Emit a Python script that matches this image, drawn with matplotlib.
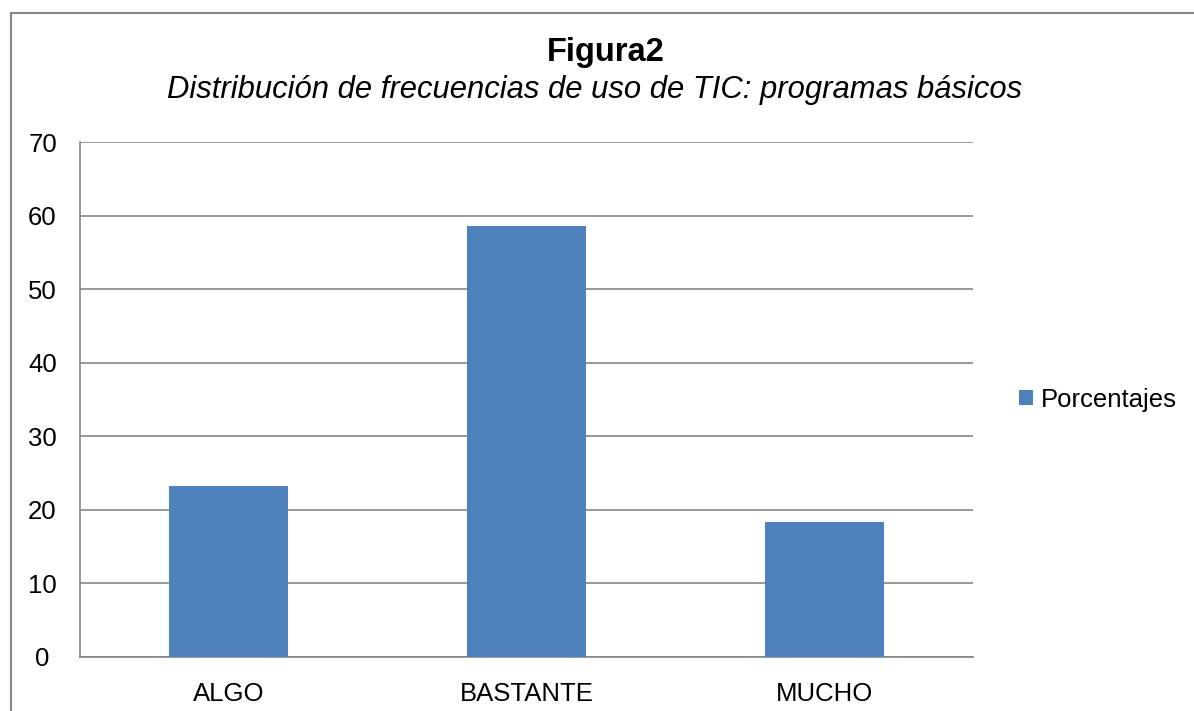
import numpy as np
import matplotlib
matplotlib.use("Agg")
import matplotlib.pyplot as plt
from matplotlib.patches import Rectangle

plt.rcParams['font.family'] = ['Liberation Sans', 'DejaVu Sans']

categorias = ['ALGO', 'BASTANTE', 'MUCHO']
porcentajes = [23.2, 58.6, 18.3]
yticks = [0, 10, 20, 30, 40, 50, 60, 70]

color_barra = '#4f81bd'
color_linea = '#868686'

fig = plt.figure(figsize=(11.94, 7.11), dpi=100)
# outer chart border
fig.patches.append(Rectangle((11 / 1194, -0.1), 1.2, (711 - 13) / 711 + 0.1,
                             transform=fig.transFigure, fill=False,
                             edgecolor=color_linea, linewidth=1.5))

ax = fig.add_axes([80 / 1194, 54 / 711, 893 / 1194, 515 / 711])
x = np.arange(len(categorias))
ax.bar(x, porcentajes, width=0.4, color=color_barra, label='Porcentajes', zorder=3)

ax.set_xlim(-0.5, len(categorias) - 0.5)
ax.set_ylim(0, 70)
ax.set_yticks(yticks)
ax.set_xticks(x)
ax.set_xticklabels(categorias)
ax.tick_params(axis='both', labelsize=18.5, colors='black', length=0)
ax.tick_params(axis='x', pad=18)
ax.tick_params(axis='y', pad=27)
for lbl in ax.get_yticklabels():
    lbl.set_horizontalalignment('center')
ax.grid(axis='y', color=color_linea, linewidth=1.2, zorder=0)
for s in ['top', 'right']:
    ax.spines[s].set_visible(False)
for s in ['left', 'bottom']:
    ax.spines[s].set_color(color_linea)
    ax.spines[s].set_linewidth(1.2)

fig.text(606 / 1194, 1 - 52 / 711, 'Figura2', ha='center', va='center',
         fontsize=23.5, fontweight='bold')
fig.text(595 / 1194, 1 - 90 / 711,
         'Distribución de frecuencias de uso de TIC: programas básicos',
         ha='center', va='center', fontsize=22.3, style='italic')

ax.legend(loc='center left', bbox_to_anchor=(1.04, 0.5), frameon=False,
          fontsize=18.5, handlelength=0.55, handleheight=0.55, handletextpad=0.3,
          borderaxespad=0)

fig.savefig('out.png', dpi=100)
